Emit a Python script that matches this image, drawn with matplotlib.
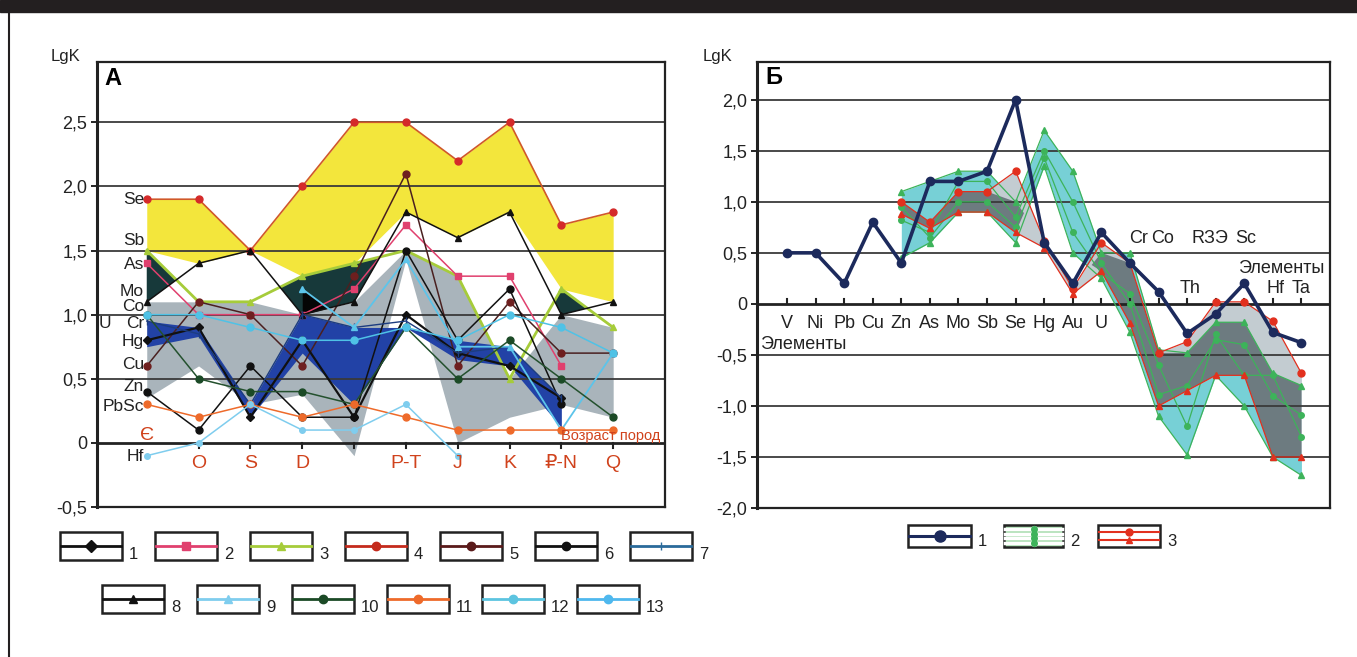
import numpy as np
import matplotlib
matplotlib.use("Agg")
import matplotlib.pyplot as plt
from matplotlib.patches import Rectangle

plt.rcParams['font.family'] = ['Liberation Sans', 'DejaVu Sans']

nan = np.nan
# ---------------- Panel A data ----------------
ages = ['Є', 'O', 'S', 'D', '', 'P-T', 'J', 'K', '₽-N', 'Q']
a_s1 = [0.8, 0.9, 0.2, 0.8, 0.2, 1.0, 0.7, 0.6, 0.35, nan]      # black diamond
a_s2 = [1.4, 1.0, 1.0, 1.0, 1.2, 1.7, 1.3, 1.3, 0.6, nan]       # pink square
a_s3 = [1.5, 1.1, 1.1, 1.3, 1.4, 1.5, 1.3, 0.5, 1.2, 0.9]       # lime triangle
a_s4 = [1.9, 1.9, 1.5, 2.0, 2.5, 2.5, 2.2, 2.5, 1.7, 1.8]       # red circle (Se)
a_s5 = [0.6, 1.1, 1.0, 0.6, 1.3, 2.1, 0.6, 1.1, 0.7, 0.7]       # brown circle
a_s6 = [0.4, 0.1, 0.6, 0.2, 0.2, 1.5, 0.8, 1.2, 0.3, nan]       # black circle
a_s7 = [0.95, 0.85, 0.3, 1.0, 0.9, 0.95, 0.7, 0.75, 0.35, nan]  # blue tick
a_s8 = [1.1, 1.4, 1.5, 1.0, 1.1, 1.8, 1.6, 1.8, 1.0, 1.1]       # black triangle
a_s9 = [nan, nan, nan, 1.2, 0.9, 1.43, 0.75, 0.75, 0.1, 0.7]    # light blue triangle
a_s10 = [1.0, 0.5, 0.4, 0.4, 0.3, 0.9, 0.5, 0.8, 0.5, 0.2]      # dark green circle
a_s11 = [0.3, 0.2, 0.3, 0.2, 0.3, 0.2, 0.1, 0.1, 0.1, 0.1]      # orange circle
a_s12 = [1.0, 1.0, 0.9, 0.8, 0.8, 0.9, 0.8, 1.0, 0.9, 0.7]      # cyan circle
a_s13 = [-0.1, 0.0, 0.3, 0.1, 0.1, 0.3, -0.1, nan, nan, nan]    # light blue small circle
a_gray_low = [0.35, 0.6, 0.3, 0.38, -0.1, 1.43, 0.0, 0.2, 0.3, 0.2]
a_blue_hi = [0.95, 0.9, 0.3, 1.0, 0.9, 0.9, 0.8, 0.75, 0.35, nan]
a_blue_lo = [0.75, 0.83, 0.2, 0.7, 0.3, 0.9, 0.65, 0.6, 0.12, nan]
a_elem_labels = ['Se', 'Sb', 'As', 'Mo', 'Co', 'Cr', 'Hg', 'Cu', 'Zn', 'PbSc', 'Hf']
a_elem_levels = [1.9, 1.58, 1.39, 1.18, 1.06, 0.93, 0.79, 0.61, 0.44, 0.28, -0.11]

# ---------------- Panel B data ----------------
elements = ['V', 'Ni', 'Pb', 'Cu', 'Zn', 'As', 'Mo', 'Sb', 'Se', 'Hg', 'Au', 'U',
            'Cr', 'Co', 'Th', 'RЗЭ', 'Sc', 'Hf', 'Ta']
b_s1 = [0.5, 0.5, 0.2, 0.8, 0.4, 1.2, 1.2, 1.3, 2.0, 0.6, 0.2, 0.7,
        0.4, 0.12, -0.29, -0.1, 0.2, -0.28, -0.38]
b_g_hi = [nan, nan, nan, nan, 1.1, 1.2, 1.3, 1.3, 1.0, 1.7, 1.3, 0.5,
          0.5, -0.45, -0.48, -0.18, -0.18, -0.68, -0.8]
b_g_m1 = [nan, nan, nan, nan, 0.82, 0.7, 1.2, 1.2, 0.85, 1.5, 1.0, 0.4,
          0.0, -0.89, -0.8, -0.35, -0.4, -0.9, -1.09]
b_g_m2 = [nan, nan, nan, nan, 0.95, 0.65, 1.0, 1.0, 0.75, 1.43, 0.7, 0.3,
          0.1, -0.6, -1.2, -0.3, -0.7, -0.7, -1.3]
b_g_lo = [nan, nan, nan, nan, 0.45, 0.6, 0.9, 0.9, 0.6, 1.35, 0.5, 0.25,
          -0.28, -1.1, -1.48, -0.7, -1.0, -1.5, -1.68]
b_r_hi = [nan, nan, nan, nan, 1.0, 0.8, 1.1, 1.1, 1.3, 0.62, 0.15, 0.6,
          0.4, -0.48, -0.37, 0.02, 0.02, -0.17, -0.68]
b_r_lo = [nan, nan, nan, nan, 0.88, 0.74, 0.9, 0.9, 0.7, 0.55, 0.1, 0.32,
          -0.19, -1.0, -0.85, -0.7, -0.7, -1.5, -1.5]

W, H = 1357, 657
fig = plt.figure(figsize=(W / 100, H / 100), dpi=100)

bg = fig.add_axes([0, 0, 1, 1])
bg.set_xlim(0, W)
bg.set_ylim(H, 0)
bg.axis('off')
bg.add_patch(Rectangle((0, 0), W, 12, color='#231f20', zorder=0))
bg.plot([8.5, 8.5], [12, H], color='#231f20', lw=1.5)

def fr(l, t, r, b):
    return [l / W, 1 - b / H, (r - l) / W, (b - t) / H]

GRID = '#3a3a3a'
RED = '#d0421c'
TXT = '#222222'

# ================== Panel A ==================
axA = fig.add_axes(fr(97, 62, 665, 507))
x = np.arange(len(ages))
A = {k: np.array(v, dtype=float) for k, v in dict(
    s1=a_s1, s2=a_s2, s3=a_s3, s4=a_s4, s5=a_s5, s6=a_s6, s7=a_s7, s8=a_s8,
    s9=a_s9, s10=a_s10, s11=a_s11, s12=a_s12, s13=a_s13,
    gl=a_gray_low, bh=a_blue_hi, bl=a_blue_lo).items()}

upper_y = np.maximum(A['s8'], A['s3'])
axA.fill_between(x, A['s4'], upper_y, color='#f3e63c', lw=0, zorder=1)
axA.fill_between(x, A['s3'], A['s8'], where=A['s3'] > A['s8'], interpolate=True,
                 color='#17393a', lw=0, zorder=1)
axA.fill_between(x, np.minimum(A['s3'], A['s8']), A['gl'], color='#a9b4bb', lw=0, zorder=1)
axA.fill_between(x, A['s9'], A['s8'], where=A['s9'] > A['s8'], interpolate=True,
                 color='#050505', lw=0, zorder=1.5)
axA.fill_between(x, A['bh'], A['bl'], color='#2242a6', lw=0, zorder=1.6)

for v in [0.5, 1.0, 1.5, 2.0, 2.5]:
    axA.axhline(v, color=GRID, lw=1.3, zorder=2)
axA.axhline(0, color=TXT, lw=2, zorder=2)

def ln(ax, xs, y, color, marker, ms=5, lw=1.1, z=3, mfc=None):
    ax.plot(xs, y, color=color, lw=lw, marker=marker, ms=ms,
            mfc=mfc or color, mec=mfc or color, zorder=z)

ln(axA, x, A['s4'], '#d0582a', 'o', 5, 1.2, mfc='#d42a2a')
ln(axA, x, A['s3'], '#a6cc3a', '^', 4, 2.0)
ln(axA, x, A['s2'], '#e0406e', 's', 5)
ln(axA, x, A['s5'], '#4a2020', 'o', 5, mfc='#6e1f1f')
ln(axA, x, A['s8'], '#111111', '^', 5)
ln(axA, x, A['s6'], '#111111', 'o', 5)
ln(axA, x, A['s1'], '#111111', 'D', 4, 1.6)
ln(axA, x, A['s7'], '#1d3d80', '|', 6, 1.0)
ln(axA, x, A['s9'], '#5cc4ea', '^', 5, 1.3)
ln(axA, x, A['s10'], '#24512e', 'o', 5, mfc='#1b4a26')
ln(axA, x, A['s11'], '#ee6a2a', 'o', 5)
ln(axA, x, A['s12'], '#4fc2e6', 'o', 5)
ln(axA, x, A['s13'], '#7fcdee', 'o', 4)

axA.set_xlim(-0.96, 10)
axA.set_ylim(-0.5, 2.97)
axA.set_yticks([-0.5, 0, 0.5, 1.0, 1.5, 2.0, 2.5])
axA.set_yticklabels(['-0,5', '0', '0,5', '1,0', '1,5', '2,0', '2,5'], fontsize=13, color=TXT)
axA.tick_params(axis='y', length=4, width=1.2, pad=3)
axA.set_xticks([])
for i in range(1, len(ages)):
    axA.plot([i, i], [0, -0.04], color=TXT, lw=1.5, zorder=2, clip_on=False)
for sp in axA.spines.values():
    sp.set_color(TXT)
    sp.set_linewidth(1.6)
axA.spines['left'].set_linewidth(2.2)

for i, lab in enumerate(ages):
    if i == 0:
        axA.text(i, 0.06, lab, color=RED, fontsize=14, ha='center', va='center', zorder=5)
    elif lab:
        axA.text(i, -0.16, lab, color=RED, fontsize=14, ha='center', va='center', zorder=5)
axA.text(8, 0.05, 'Возраст пород', color=RED, fontsize=10.5, ha='left', va='center', zorder=5)
for lab, lv in zip(a_elem_labels, a_elem_levels):
    axA.text(-0.05, lv, lab, fontsize=12.5, ha='right', va='center', color=TXT, zorder=5)
axA.text(-0.92, 0.93, 'U', fontsize=12.5, ha='left', va='center', color=TXT, zorder=5)
axA.text(-0.82, 2.84, 'А', fontsize=17, fontweight='bold', ha='left', va='center')
bg.text(66, 56, 'LgK', fontsize=12, ha='center', va='center', color=TXT)

# ================== Panel B ==================
axB = fig.add_axes(fr(757, 62, 1330, 508))
xb = np.arange(len(elements))
B = {k: np.array(v, dtype=float) for k, v in dict(
    s1=b_s1, gh=b_g_hi, gm1=b_g_m1, gm2=b_g_m2, gl=b_g_lo, rh=b_r_hi, rl=b_r_lo).items()}

axB.fill_between(xb, B['gh'], B['gl'], color='#5fc8cf', alpha=0.85, lw=0, zorder=1)
axB.fill_between(xb, B['rh'], B['rl'], color='#c3ccd1', lw=0, zorder=1.2)
top = np.minimum(B['gh'], B['rh'])
bot = np.maximum(B['gl'], B['rl'])
axB.fill_between(xb, top, bot, where=top > bot, interpolate=True, color='#6d7b80', lw=0, zorder=1.4)

for v in [-1.5, -1.0, -0.5, 0.5, 1.0, 1.5, 2.0]:
    axB.axhline(v, color=GRID, lw=1.3, zorder=2)
axB.axhline(0, color=TXT, lw=2, zorder=2)
for i in range(len(elements)):
    axB.plot([i, i], [0, 0.05], color=TXT, lw=1.5, zorder=2)

for key, mk in [('gh', '^'), ('gm1', 'o'), ('gm2', 'o'), ('gl', '^')]:
    ln(axB, xb, B[key], '#3db35a', mk, 4, 0.9)
ln(axB, xb, B['rh'], '#e2301e', 'o', 5, 0.9)
ln(axB, xb, B['rl'], '#e2301e', '^', 5, 0.9)
ln(axB, xb, B['s1'], '#1c2a5c', 'o', 6, 2.6, z=4)

axB.set_xlim(-1.05, 19)
axB.set_ylim(-2.0, 2.37)
axB.set_yticks([-2.0, -1.5, -1.0, -0.5, 0, 0.5, 1.0, 1.5, 2.0])
axB.set_yticklabels(['-2,0', '-1,5', '-1,0', '-0,5', '0', '0,5', '1,0', '1,5', '2,0'],
                    fontsize=13, color=TXT)
axB.tick_params(axis='y', length=4, width=1.2, pad=3)
axB.set_xticks([])
for sp in axB.spines.values():
    sp.set_color(TXT)
    sp.set_linewidth(1.6)
axB.spines['left'].set_linewidth(2.2)

for i, lab in enumerate(elements[:12]):
    axB.text(i, -0.19, lab, fontsize=13, ha='center', va='center', color=TXT, zorder=5)
axB.text(-0.95, -0.4, 'Элементы', fontsize=13, ha='left', va='center', color=TXT, zorder=5)
for lab, xx, yy in [('Cr', 12.3, 0.64), ('Co', 13.15, 0.64), ('RЗЭ', 14.8, 0.64),
                    ('Sc', 16.05, 0.64), ('Th', 14.1, 0.15), ('Hf', 17.1, 0.15),
                    ('Ta', 18.0, 0.15)]:
    axB.text(xx, yy, lab, fontsize=13, ha='center', va='center', color=TXT, zorder=5)
axB.text(18.8, 0.35, 'Элементы', fontsize=13, ha='right', va='center', color=TXT, zorder=5)
axB.text(-0.75, 2.22, 'Б', fontsize=17, fontweight='bold', ha='left', va='center')
bg.text(718, 56, 'LgK', fontsize=12, ha='center', va='center', color=TXT)

# ================== Legends ==================
def legbox(x0, y0, w, h, color, marker, label, ms=6, lw=2.0, nlines=1, mk2=None):
    bg.add_patch(Rectangle((x0, y0), w, h, fill=False, ec=TXT, lw=1.8, zorder=3))
    if nlines == 1:
        ys = [y0 + h / 2]
        mks = [marker]
    elif nlines == 2:
        ys = [y0 + h * 0.33, y0 + h * 0.67]
        mks = [marker, mk2]
    else:
        ys = [y0 + h * (k + 1) / (nlines + 1) for k in range(nlines)]
        mks = [marker] * nlines
    for yy, mm in zip(ys, mks):
        bg.plot([x0 + 1, x0 + w - 1], [yy, yy], color=color, lw=lw, zorder=4)
        bg.plot([x0 + w / 2], [yy], marker=mm, color=color, ms=ms, zorder=5)
    bg.text(x0 + w + 7, y0 + h + 2, label, fontsize=12, ha='left', va='bottom', color=TXT)

legA1 = [('#111111', 'D', '1'), ('#e0406e', 's', '2'), ('#a6cc3a', '^', '3'),
         ('#c42a1c', 'o', '4'), ('#5a1a1a', 'o', '5'), ('#111111', 'o', '6'),
         ('#2a6a9a', '|', '7')]
legA2 = [('#111111', '^', '8'), ('#7fcdee', '^', '9'), ('#1b4a26', 'o', '10'),
         ('#ee6a2a', 'o', '11'), ('#5cc4e0', 'o', '12'), ('#4fb8ee', 'o', '13')]
for k, (c, m, l) in enumerate(legA1):
    legbox(60 + k * 95, 532, 62, 28, c, m, l)
for k, (c, m, l) in enumerate(legA2):
    legbox(102 + k * 95, 585, 62, 28, c, m, l)

bg.add_patch(Rectangle((1004, 525), 59, 22, color='#a8dcae', zorder=2))
legbox(908, 525, 63, 22, '#1c2a5c', 'o', '1', ms=8, lw=2.2)
legbox(1004, 525, 59, 22, '#ffffff', 'o', '2', ms=4, lw=2.5, nlines=4)
bg.plot([1033.5, 1033.5], [526, 546], color='#3db35a', lw=1, zorder=6)
for kk in range(4):
    bg.plot([1033.5], [525 + 22 * (kk + 1) / 5], marker='o', color='#3db35a', ms=4, zorder=6)
legbox(1098, 525, 62, 22, '#e2301e', 'o', '3', ms=5, lw=1.5, nlines=2, mk2='^')

fig.savefig('out.png', dpi=100)
